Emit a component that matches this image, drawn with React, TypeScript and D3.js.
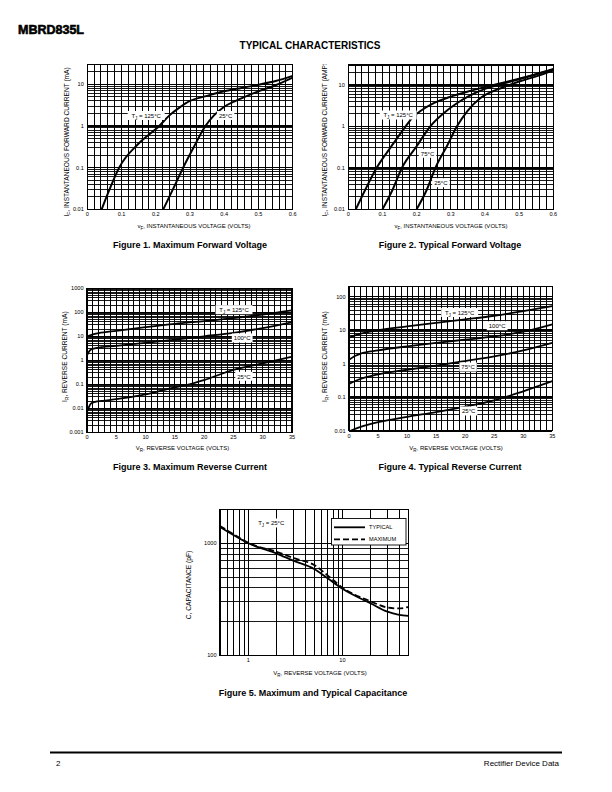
import React from "react";
import * as d3 from "d3";

const FONT = "'Liberation Sans', Arial, Helvetica, sans-serif";

// ---------------- Figure 1: Maximum Forward Voltage ----------------
const fig1XTicks = [0, 0.1, 0.2, 0.3, 0.4, 0.5, 0.6];
const fig1XTickLabels = ["0", "0.1", "0.2", "0.3", "0.4", "0.5", "0.6"];
const fig1YTicks = [0.01, 0.1, 1, 10];
const fig1YTickLabels = ["0.01", "0.1", "1", "10"];
const fig1V125 = [0.042, 0.065, 0.093, 0.15, 0.21, 0.24, 0.27, 0.3, 0.35, 0.4, 0.45, 0.5, 0.55, 0.6];
const fig1I125 = [0.01, 0.03, 0.1, 0.38, 1.0, 1.8, 2.8, 4.0, 5.3, 6.8, 8.2, 9.8, 12, 16];
const fig1V25 = [0.222, 0.25, 0.28, 0.31, 0.345, 0.37, 0.4, 0.45, 0.5, 0.55, 0.6];
const fig1I25 = [0.01, 0.03, 0.1, 0.3, 1.0, 1.8, 2.9, 4.6, 6.8, 9.5, 14.5];

// ---------------- Figure 2: Typical Forward Voltage ----------------
const fig2V125 = [0.022, 0.05, 0.083, 0.125, 0.168, 0.19, 0.21, 0.25, 0.3, 0.35, 0.4, 0.45, 0.5, 0.55, 0.6];
const fig2I125 = [0.01, 0.03, 0.1, 0.32, 1.0, 1.7, 2.3, 3.6, 5.2, 6.9, 8.8, 11, 14, 18, 24];
const fig2V75 = [0.1, 0.13, 0.157, 0.2, 0.24, 0.28, 0.32, 0.35, 0.4, 0.45, 0.5, 0.55, 0.6];
const fig2I75 = [0.01, 0.03, 0.1, 0.33, 1.0, 2.1, 3.7, 5.2, 8.0, 10.5, 13.5, 18, 23];
const fig2V25 = [0.2, 0.23, 0.255, 0.29, 0.318, 0.348, 0.387, 0.42, 0.45, 0.5, 0.55, 0.6];
const fig2I25 = [0.01, 0.03, 0.1, 0.35, 1.0, 2.3, 4.8, 6.8, 8.5, 12, 16, 22];

// ---------------- Figure 3: Maximum Reverse Current ----------------
const fig34XTicks = [0, 5, 10, 15, 20, 25, 30, 35];
const fig34XTickLabels = ["0", "5", "10", "15", "20", "25", "30", "35"];
const fig3YTicks = [0.001, 0.01, 0.1, 1, 10, 100, 1000];
const fig3YTickLabels = ["0.001", "0.01", "0.1", "1", "10", "100", "1000"];
const fig3V125 = [0, 0.5, 1, 2, 5, 10, 15, 20, 25, 30, 35];
const fig3I125 = [9.5, 11, 12, 13.5, 17, 24, 33, 43, 57, 80, 120];
const fig3V100 = [0, 0.3, 0.7, 1.5, 5, 10, 15, 20, 25, 30, 35];
const fig3I100 = [1.6, 2.2, 2.8, 3.2, 4.0, 5.3, 7.2, 10, 14, 22, 38];
const fig3V25 = [0, 0.3, 0.7, 1.2, 3, 5, 10, 15, 17.5, 20, 25, 30, 35];
const fig3I25 = [0.007, 0.011, 0.016, 0.018, 0.021, 0.024, 0.038, 0.075, 0.1, 0.15, 0.4, 0.75, 1.4];

// ---------------- Figure 4: Typical Reverse Current ----------------
const fig4YTicks = [0.01, 0.1, 1, 10, 100];
const fig4YTickLabels = ["0.01", "0.1", "1", "10", "100"];
const fig4V125 = [0, 2, 5, 10, 15, 20, 25, 30, 35];
const fig4I125 = [6, 7.9, 10, 13, 16.5, 21, 27, 37, 52];
const fig4V100 = [0, 1, 2, 5, 10, 15, 20, 25, 30, 35];
const fig4I100 = [1.3, 1.7, 2.0, 2.5, 3.3, 4.2, 5.2, 6.5, 9, 15];
const fig4V75 = [0, 1, 2, 5, 10, 15, 20, 25, 30, 35];
const fig4I75 = [0.25, 0.3, 0.35, 0.48, 0.66, 0.88, 1.2, 1.65, 2.5, 4.2];
const fig4V25 = [0, 2, 5, 10, 15, 20, 25, 30, 35];
const fig4I25 = [0.0095, 0.013, 0.018, 0.026, 0.036, 0.052, 0.08, 0.15, 0.3];

// ---------------- Figure 5: Capacitance ----------------
const fig5XTicks = [1, 10];
const fig5XTickLabels = ["1", "10"];
const fig5YTicks = [100, 1000];
const fig5YTickLabels = ["100", "1000"];
const fig5VTyp = [0.5, 0.7, 1, 2, 3, 5, 7, 10, 20, 30, 40, 50];
const fig5CTyp = [1400, 1180, 1000, 810, 700, 590, 485, 392, 290, 245, 230, 225];
const fig5VMax = [0.5, 0.7, 1, 2, 3, 5, 7, 10, 20, 30, 40, 50];
const fig5CMax = [1430, 1200, 1010, 840, 740, 640, 515, 402, 303, 267, 262, 270];

function logGrid(min: number, max: number): number[] {
  const out: number[] = [];
  for (let e = Math.floor(Math.log10(min)); e <= Math.ceil(Math.log10(max)); e++) {
    for (let m = 1; m <= 9; m++) {
      const v = m * Math.pow(10, e);
      if (v >= min * 0.999 && v <= max * 1.001) out.push(v);
    }
  }
  return out;
}
function linGrid(min: number, max: number, step: number): number[] {
  return d3.range(min, max + step / 2, step);
}
const isDecade = (v: number) => Math.abs(Math.log10(v) - Math.round(Math.log10(v))) < 1e-9;

type Curve = { xs: number[]; ys: number[]; dash?: string; w?: number };
type Lbl = { x: number; y: number; main: string; sub?: string; rest?: string; box?: boolean };

function SubText({ main, sub, rest, fs }: { main: string; sub?: string; rest?: string; fs: number }) {
  return (
    <>
      {main}
      {sub ? (
        <tspan dy={fs * 0.3} fontSize={fs * 0.75}>
          {sub}
        </tspan>
      ) : null}
      {rest ? <tspan dy={sub ? -fs * 0.3 : 0}>{rest}</tspan> : null}
    </>
  );
}

interface PanelProps {
  id: string;
  left: number;
  right: number;
  top: number;
  bottom: number;
  xLog?: boolean;
  xDomain: [number, number];
  yDomain: [number, number];
  xGrid: number[];
  yGrid: number[];
  xTicks: number[];
  xTickLabels: string[];
  yTicks: number[];
  yTickLabels: string[];
  curves: Curve[];
  labels: Lbl[];
  yTitle: [string, string, string];
  yTitleX: number;
  yTitleY: number;
  yTitleAnchor: "start" | "middle";
  clipTop?: number;
  xTitle: [string, string, string];
  xTitleX: number;
  xTitleY: number;
  caption: string;
  captionX: number;
  captionY: number;
  legend?: boolean;
}

function Panel(p: PanelProps) {
  const x = (p.xLog ? d3.scaleLog() : d3.scaleLinear()).domain(p.xDomain).range([p.left, p.right]);
  const y = d3.scaleLog().domain(p.yDomain).range([p.bottom, p.top]);
  const line = d3
    .line<[number, number]>()
    .x((d) => x(d[0]))
    .y((d) => y(d[1]))
    .curve(d3.curveMonotoneX);
  const fsTick = 5.6;
  const fsLbl = 6;
  const fsYT = 6.6;
  return (
    <g>
      <defs>
        <clipPath id={"clip-" + p.id}>
          <rect x={p.left} y={p.top} width={p.right - p.left} height={p.bottom - p.top} />
        </clipPath>
        <clipPath id={"tclip-" + p.id}>
          <rect x={0} y={p.clipTop ?? 0} width={612} height={792} />
        </clipPath>
      </defs>
      {/* grid */}
      <g stroke="#000" shapeRendering="crispEdges">
        {p.xGrid.map((v, i) => (
          <line key={"vx" + i} x1={x(v)} x2={x(v)} y1={p.top} y2={p.bottom} strokeWidth={1} />
        ))}
        {p.yGrid.map((v, i) => (
          <line
            key={"hy" + i}
            x1={p.left}
            x2={p.right}
            y1={y(v)}
            y2={y(v)}
            strokeWidth={isDecade(v) ? 1.6 : 0.9}
          />
        ))}
        <rect x={p.left} y={p.top} width={p.right - p.left} height={p.bottom - p.top} fill="none" strokeWidth={1.2} />
      </g>
      {/* curves */}
      <g clipPath={`url(#clip-${p.id})`} fill="none" stroke="#000" strokeLinejoin="round">
        {p.curves.map((c, i) => (
          <path
            key={"c" + i}
            d={line(c.xs.map((v, j) => [v, c.ys[j]] as [number, number])) || ""}
            strokeWidth={c.w ?? 2}
            strokeDasharray={c.dash}
          />
        ))}
      </g>
      {/* curve labels */}
      {p.labels.map((l, i) => {
        const w =
          (l.main.length + (l.rest ? l.rest.length : 0)) * fsLbl * 0.56 + (l.sub ? l.sub.length * fsLbl * 0.45 : 0) + 4;
        const cx = x(l.x);
        const cy = y(l.y);
        return (
          <g key={"l" + i}>
            {l.box !== false && <rect x={cx - w / 2} y={cy - 4.8} width={w} height={9} fill="#fff" />}
            <text x={cx} y={cy + 2.1} fontSize={fsLbl} textAnchor="middle" fontFamily={FONT}>
              <SubText main={l.main} sub={l.sub} rest={l.rest} fs={fsLbl} />
            </text>
          </g>
        );
      })}
      {/* tick labels */}
      <g fontFamily={FONT} fontSize={fsTick} fill="#000">
        {p.xTicks.map((v, i) => (
          <text key={"xt" + i} x={x(v)} y={p.bottom + 6.8} textAnchor="middle">
            {p.xTickLabels[i]}
          </text>
        ))}
        {p.yTicks.map((v, i) => (
          <text key={"yt" + i} x={p.left - 3.5} y={y(v) + 2} textAnchor="end">
            {p.yTickLabels[i]}
          </text>
        ))}
      </g>
      {/* axis titles */}
      <g clipPath={`url(#tclip-${p.id})`}>
        <text
          transform={`translate(${p.yTitleX},${p.yTitleY}) rotate(-90)`}
          fontFamily={FONT}
          fontSize={fsYT}
          textAnchor={p.yTitleAnchor}
          dy={2.2}
        >
          <SubText main={p.yTitle[0]} sub={p.yTitle[1]} rest={p.yTitle[2]} fs={fsYT} />
        </text>
      </g>
      <text x={p.xTitleX} y={p.xTitleY} fontFamily={FONT} fontSize={6} textAnchor="middle">
        <SubText main={p.xTitle[0]} sub={p.xTitle[1]} rest={p.xTitle[2]} fs={6} />
      </text>
      <text x={p.captionX} y={p.captionY} fontFamily={FONT} fontSize={9} fontWeight="bold" textAnchor="middle">
        {p.caption}
      </text>
      {p.legend && (
        <g fontFamily={FONT} fontSize={5.6}>
          <rect x={331.5} y={518.5} width={74.5} height={26.5} fill="#fff" stroke="#000" strokeWidth={0.9} />
          <line x1={334} x2={365} y1={527.3} y2={527.3} stroke="#000" strokeWidth={1.8} />
          <text x={369} y={529.3}>TYPICAL</text>
          <line x1={334} x2={365} y1={539.3} y2={539.3} stroke="#000" strokeWidth={1.8} strokeDasharray="6,3" />
          <text x={369} y={541.3}>MAXIMUM</text>
        </g>
      )}
    </g>
  );
}

export default function App() {
  const fig1: PanelProps = {
    id: "f1",
    left: 87.3,
    right: 292.7,
    top: 64.5,
    bottom: 209.3,
    xDomain: [0, 0.6],
    yDomain: [0.01, 30],
    xGrid: linGrid(0, 0.6, 0.02),
    yGrid: logGrid(0.01, 30),
    xTicks: fig1XTicks,
    xTickLabels: fig1XTickLabels,
    yTicks: fig1YTicks,
    yTickLabels: fig1YTickLabels,
    curves: [
      { xs: fig1V125, ys: fig1I125 },
      { xs: fig1V25, ys: fig1I25 },
    ],
    labels: [
      { x: 0.172, y: 1.76, main: "T", sub: "J", rest: " = 125°C" },
      { x: 0.404, y: 1.76, main: "25°C" },
    ],
    yTitle: ["I", "F", ", INSTANTANEOUS FORWARD CURRENT (mA)"],
    yTitleX: 67,
    yTitleY: 216.5,
    yTitleAnchor: "start",
    clipTop: 64,
    xTitle: ["v", "F", ", INSTANTANEOUS VOLTAGE (VOLTS)"],
    xTitleX: 194,
    xTitleY: 228,
    caption: "Figure 1. Maximum Forward Voltage",
    captionX: 190,
    captionY: 248,
  };
  const fig2: PanelProps = {
    id: "f2",
    left: 348.3,
    right: 553.3,
    top: 65,
    bottom: 209.3,
    xDomain: [0, 0.6],
    yDomain: [0.01, 30],
    xGrid: linGrid(0, 0.6, 0.02),
    yGrid: logGrid(0.01, 30),
    xTicks: fig1XTicks,
    xTickLabels: fig1XTickLabels,
    yTicks: fig1YTicks,
    yTickLabels: fig1YTickLabels,
    curves: [
      { xs: fig2V125, ys: fig2I125 },
      { xs: fig2V75, ys: fig2I75 },
      { xs: fig2V25, ys: fig2I25 },
    ],
    labels: [
      { x: 0.146, y: 1.84, main: "T", sub: "J", rest: " = 125°C" },
      { x: 0.232, y: 0.22, main: "75°C" },
      { x: 0.271, y: 0.043, main: "25°C" },
    ],
    yTitle: ["I", "F", ", INSTANTANEOUS FORWARD CURRENT (AMPS)"],
    yTitleX: 325,
    yTitleY: 216.5,
    yTitleAnchor: "start",
    clipTop: 64,
    xTitle: ["v", "F", ", INSTANTANEOUS VOLTAGE (VOLTS)"],
    xTitleX: 451,
    xTitleY: 228,
    caption: "Figure 2. Typical Forward Voltage",
    captionX: 450,
    captionY: 248,
  };
  const fig3: PanelProps = {
    id: "f3",
    left: 87,
    right: 292,
    top: 288.3,
    bottom: 432.3,
    xDomain: [0, 35],
    yDomain: [0.001, 1000],
    xGrid: linGrid(0, 35, 1),
    yGrid: logGrid(0.001, 1000),
    xTicks: fig34XTicks,
    xTickLabels: fig34XTickLabels,
    yTicks: fig3YTicks,
    yTickLabels: fig3YTickLabels,
    curves: [
      { xs: fig3V125, ys: fig3I125, w: 1.8 },
      { xs: fig3V100, ys: fig3I100, w: 1.8 },
      { xs: fig3V25, ys: fig3I25, w: 1.8 },
    ],
    labels: [
      { x: 25.1, y: 125, main: "T", sub: "J", rest: " = 125°C" },
      { x: 26.5, y: 8.3, main: "100°C" },
      { x: 26.8, y: 0.21, main: "25°C" },
    ],
    yTitle: ["I", "R", ", REVERSE CURRENT (mA)"],
    yTitleX: 65,
    yTitleY: 356.7,
    yTitleAnchor: "middle",
    xTitle: ["V", "R", ", REVERSE VOLTAGE (VOLTS)"],
    xTitleX: 182.5,
    xTitleY: 450,
    caption: "Figure 3. Maximum Reverse Current",
    captionX: 190,
    captionY: 470,
  };
  const fig4: PanelProps = {
    id: "f4",
    left: 349,
    right: 552.3,
    top: 286.6,
    bottom: 430.7,
    xDomain: [0, 35],
    yDomain: [0.01, 200],
    xGrid: linGrid(0, 35, 1),
    yGrid: logGrid(0.01, 200),
    xTicks: fig34XTicks,
    xTickLabels: fig34XTickLabels,
    yTicks: fig4YTicks,
    yTickLabels: fig4YTickLabels,
    curves: [
      { xs: fig4V125, ys: fig4I125, w: 1.8 },
      { xs: fig4V100, ys: fig4I100, w: 1.8 },
      { xs: fig4V75, ys: fig4I75, w: 1.8 },
      { xs: fig4V25, ys: fig4I25, w: 1.8 },
    ],
    labels: [
      { x: 19.05, y: 33, main: "T", sub: "J", rest: " = 125°C" },
      { x: 25.5, y: 13.3, main: "100°C" },
      { x: 20.5, y: 0.78, main: "75°C" },
      { x: 20.6, y: 0.038, main: "25°C" },
    ],
    yTitle: ["I", "R", ", REVERSE CURRENT (mA)"],
    yTitleX: 325,
    yTitleY: 356.7,
    yTitleAnchor: "middle",
    xTitle: ["V", "R", ", REVERSE VOLTAGE (VOLTS)"],
    xTitleX: 456,
    xTitleY: 450,
    caption: "Figure 4. Typical Reverse Current",
    captionX: 450,
    captionY: 470,
  };
  const fig5: PanelProps = {
    id: "f5",
    left: 220,
    right: 408.3,
    top: 509.6,
    bottom: 655.3,
    xLog: true,
    xDomain: [0.5, 50],
    yDomain: [100, 2000],
    xGrid: logGrid(0.5, 50),
    yGrid: logGrid(100, 1000).concat([2000]),
    xTicks: fig5XTicks,
    xTickLabels: fig5XTickLabels,
    yTicks: fig5YTicks,
    yTickLabels: fig5YTickLabels,
    curves: [
      { xs: fig5VTyp, ys: fig5CTyp, w: 1.8 },
      { xs: fig5VMax, ys: fig5CMax, w: 1.8, dash: "6,3" },
    ],
    labels: [{ x: 1.75, y: 1510, main: "T", sub: "J", rest: " = 25°C" }],
    yTitle: ["C, CAPACITANCE (pF)", "", ""],
    yTitleX: 189,
    yTitleY: 585,
    yTitleAnchor: "middle",
    xTitle: ["V", "R", ", REVERSE VOLTAGE (VOLTS)"],
    xTitleX: 320,
    xTitleY: 675,
    caption: "Figure 5. Maximum and Typical Capacitance",
    captionX: 313,
    captionY: 696,
    legend: true,
  };

  return (
    <svg
      width={612}
      height={792}
      viewBox="0 0 612 792"
      style={{ position: "absolute", left: 0, top: 0, background: "#fff" }}
    >
      <rect x={0} y={0} width={612} height={792} fill="#fff" />
      <text x={18} y={34} fontFamily={FONT} fontSize={12.5} fontWeight="bold" stroke="#000" strokeWidth={0.6}>
        MBRD835L
      </text>
      <text x={310} y={48.5} fontFamily={FONT} fontSize={10} fontWeight="bold" textAnchor="middle">
        TYPICAL CHARACTERISTICS
      </text>
      <Panel {...fig1} />
      <Panel {...fig2} />
      <Panel {...fig3} />
      <Panel {...fig4} />
      <Panel {...fig5} />
      <line x1={50} x2={562} y1={752.5} y2={752.5} stroke="#000" strokeWidth={2} />
      <text x={56} y={766} fontFamily={FONT} fontSize={8}>
        2
      </text>
      <text x={559} y={766} fontFamily={FONT} fontSize={8} textAnchor="end">
        Rectifier Device Data
      </text>
    </svg>
  );
}
